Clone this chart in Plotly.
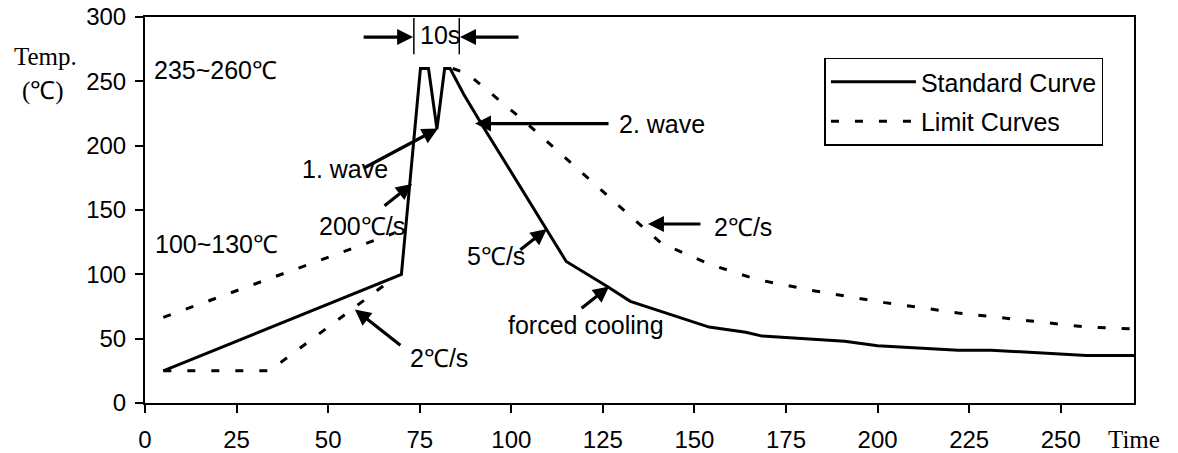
import plotly.graph_objects as go

# ---------------- data ----------------
std_time = [5, 70, 75.2, 77.4, 79.7, 81.8, 83.3, 87, 92.7, 115, 126, 132.5, 154, 164, 168.5, 191, 200, 222, 231, 257, 270]
std_temp = [25, 100, 260, 260, 213, 260, 260, 240, 213, 110, 91, 79, 59, 55, 52, 48, 44.5, 41, 41, 37, 37]

upper_time = [5, 68, None, 84, 88, 104, 118, 133, 141, 154, 167, 183, 202, 222, 241, 250, 257, 270]
upper_temp = [66.5, 132, None, 260, 256, 218, 182, 144, 124, 108, 96, 87, 78, 70, 64, 61, 59, 57.5]

lower_time = [5, 34, 66]
lower_temp = [25, 25, 93]

x_ticks = [0, 25, 50, 75, 100, 125, 150, 175, 200, 225, 250]
y_ticks = [0, 50, 100, 150, 200, 250, 300]

# arrow annotations: (tip time, tip temp, ax px, ay px)
arrows = [
    (80.0, 213.3, -75, 40),    # 1. wave
    (90.1, 217.2, 135, 0),     # 2. wave
    (72.9, 170.3, -29, 23),    # 200 C/s
    (57.3, 72.7, 47, 37),      # 2 C/s lower
    (109.7, 135.2, -28, 22),   # 5 C/s
    (126.7, 90.6, -29, 23),    # forced cooling
    (137.3, 139.1, 54, 0),     # 2 C/s upper
    (73.2, 284.4, -51, 0),     # 10s left
    (86.0, 284.4, 60, 0),      # 10s right
]

# text labels: (text, time, temp, xanchor)
labels = [
    ("10s", 80.5, 286, "center"),
    ("235~260℃", 1.9, 258.6, "left"),
    ("1. wave", 42.3, 182, "left"),
    ("2. wave", 128.9, 217.2, "left"),
    ("200℃/s", 47.0, 137.5, "left"),
    ("100~130℃", 2.2, 123.4, "left"),
    ("2℃/s", 71.8, 35.2, "left"),
    ("5℃/s", 87.4, 114, "left"),
    ("forced cooling", 98.5, 61, "left"),
    ("2℃/s", 154.8, 136.7, "left"),
]

bracket_x = [73.4, 85.8]
bracket_y = [271, 299.2]

SANS = "Liberation Sans, Arial, sans-serif"
SERIF = "Liberation Serif, Times New Roman, serif"
DASH = "8px,16px"

fig = go.Figure()
fig.add_trace(go.Scatter(
    x=std_time, y=std_temp, mode="lines", name="Standard Curve",
    line=dict(color="black", width=3), legendgroup="a"))
fig.add_trace(go.Scatter(
    x=upper_time, y=upper_temp, mode="lines", name="Limit Curves",
    line=dict(color="black", width=3, dash=DASH), connectgaps=False, legendgroup="b"))
fig.add_trace(go.Scatter(
    x=lower_time, y=lower_temp, mode="lines", name="Limit Curves",
    line=dict(color="black", width=3, dash=DASH), showlegend=False, legendgroup="b"))

annotations = []
for t, T, ax, ay in arrows:
    annotations.append(dict(
        x=t, y=T, xref="x", yref="y", text="", showarrow=True,
        ax=ax, ay=ay, arrowhead=2, arrowsize=1, arrowwidth=3.2,
        arrowcolor="black", standoff=0, startstandoff=0))
for txt, t, T, xa in labels:
    annotations.append(dict(
        x=t, y=T, xref="x", yref="y", text=txt, showarrow=False,
        xanchor=xa, yanchor="middle", font=dict(family=SANS, size=25, color="black")))

annotations.append(dict(x=-0.101, y=0.897, xref="paper", yref="paper", text="Temp.",
                        showarrow=False, xanchor="center", yanchor="middle",
                        font=dict(family=SERIF, size=25, color="black")))
annotations.append(dict(x=-0.103, y=0.808, xref="paper", yref="paper", text="(℃)",
                        showarrow=False, xanchor="center", yanchor="middle",
                        font=dict(family=SERIF, size=25, color="black")))
annotations.append(dict(x=1.0, y=-0.095, xref="paper", yref="paper", text="Time",
                        showarrow=False, xanchor="center", yanchor="middle",
                        font=dict(family=SERIF, size=25, color="black")))

shapes = []
for bx in bracket_x:
    shapes.append(dict(type="line", xref="x", yref="y", x0=bx, x1=bx,
                       y0=bracket_y[0], y1=bracket_y[1],
                       line=dict(color="black", width=1.5)))

fig.update_layout(
    width=1178, height=453,
    margin=dict(l=145, r=44, t=17, b=50, autoexpand=False),
    paper_bgcolor="white", plot_bgcolor="white",
    font=dict(family=SANS, size=24, color="black"),
    showlegend=True,
    legend=dict(x=0.687, y=0.895, xanchor="left", yanchor="top",
                bgcolor="white", bordercolor="black", borderwidth=1.5,
                font=dict(family=SANS, size=25, color="black"),
                itemwidth=85, tracegroupgap=4, traceorder="grouped"),
    annotations=annotations,
    shapes=shapes,
)
fig.update_xaxes(range=[0, 270], tickvals=x_ticks, showgrid=False, zeroline=False,
                 showline=True, linecolor="black", linewidth=2, mirror=True,
                 ticks="outside", ticklen=8, tickwidth=2, tickcolor="black", automargin=False,
                 tickfont=dict(family=SANS, size=24, color="black"), ticklabelstandoff=6)
fig.update_yaxes(range=[0, 300], tickvals=y_ticks, showgrid=False, zeroline=False,
                 showline=True, linecolor="black", linewidth=2, mirror=True,
                 ticks="outside", ticklen=8, tickwidth=2, tickcolor="black", automargin=False,
                 tickfont=dict(family=SANS, size=24, color="black"), ticklabelstandoff=4)

fig.write_html("out.html",
               config={"displayModeBar": False, "displaylogo": False},
               post_script="document.body.style.margin='0px';document.body.style.overflow='hidden';")
